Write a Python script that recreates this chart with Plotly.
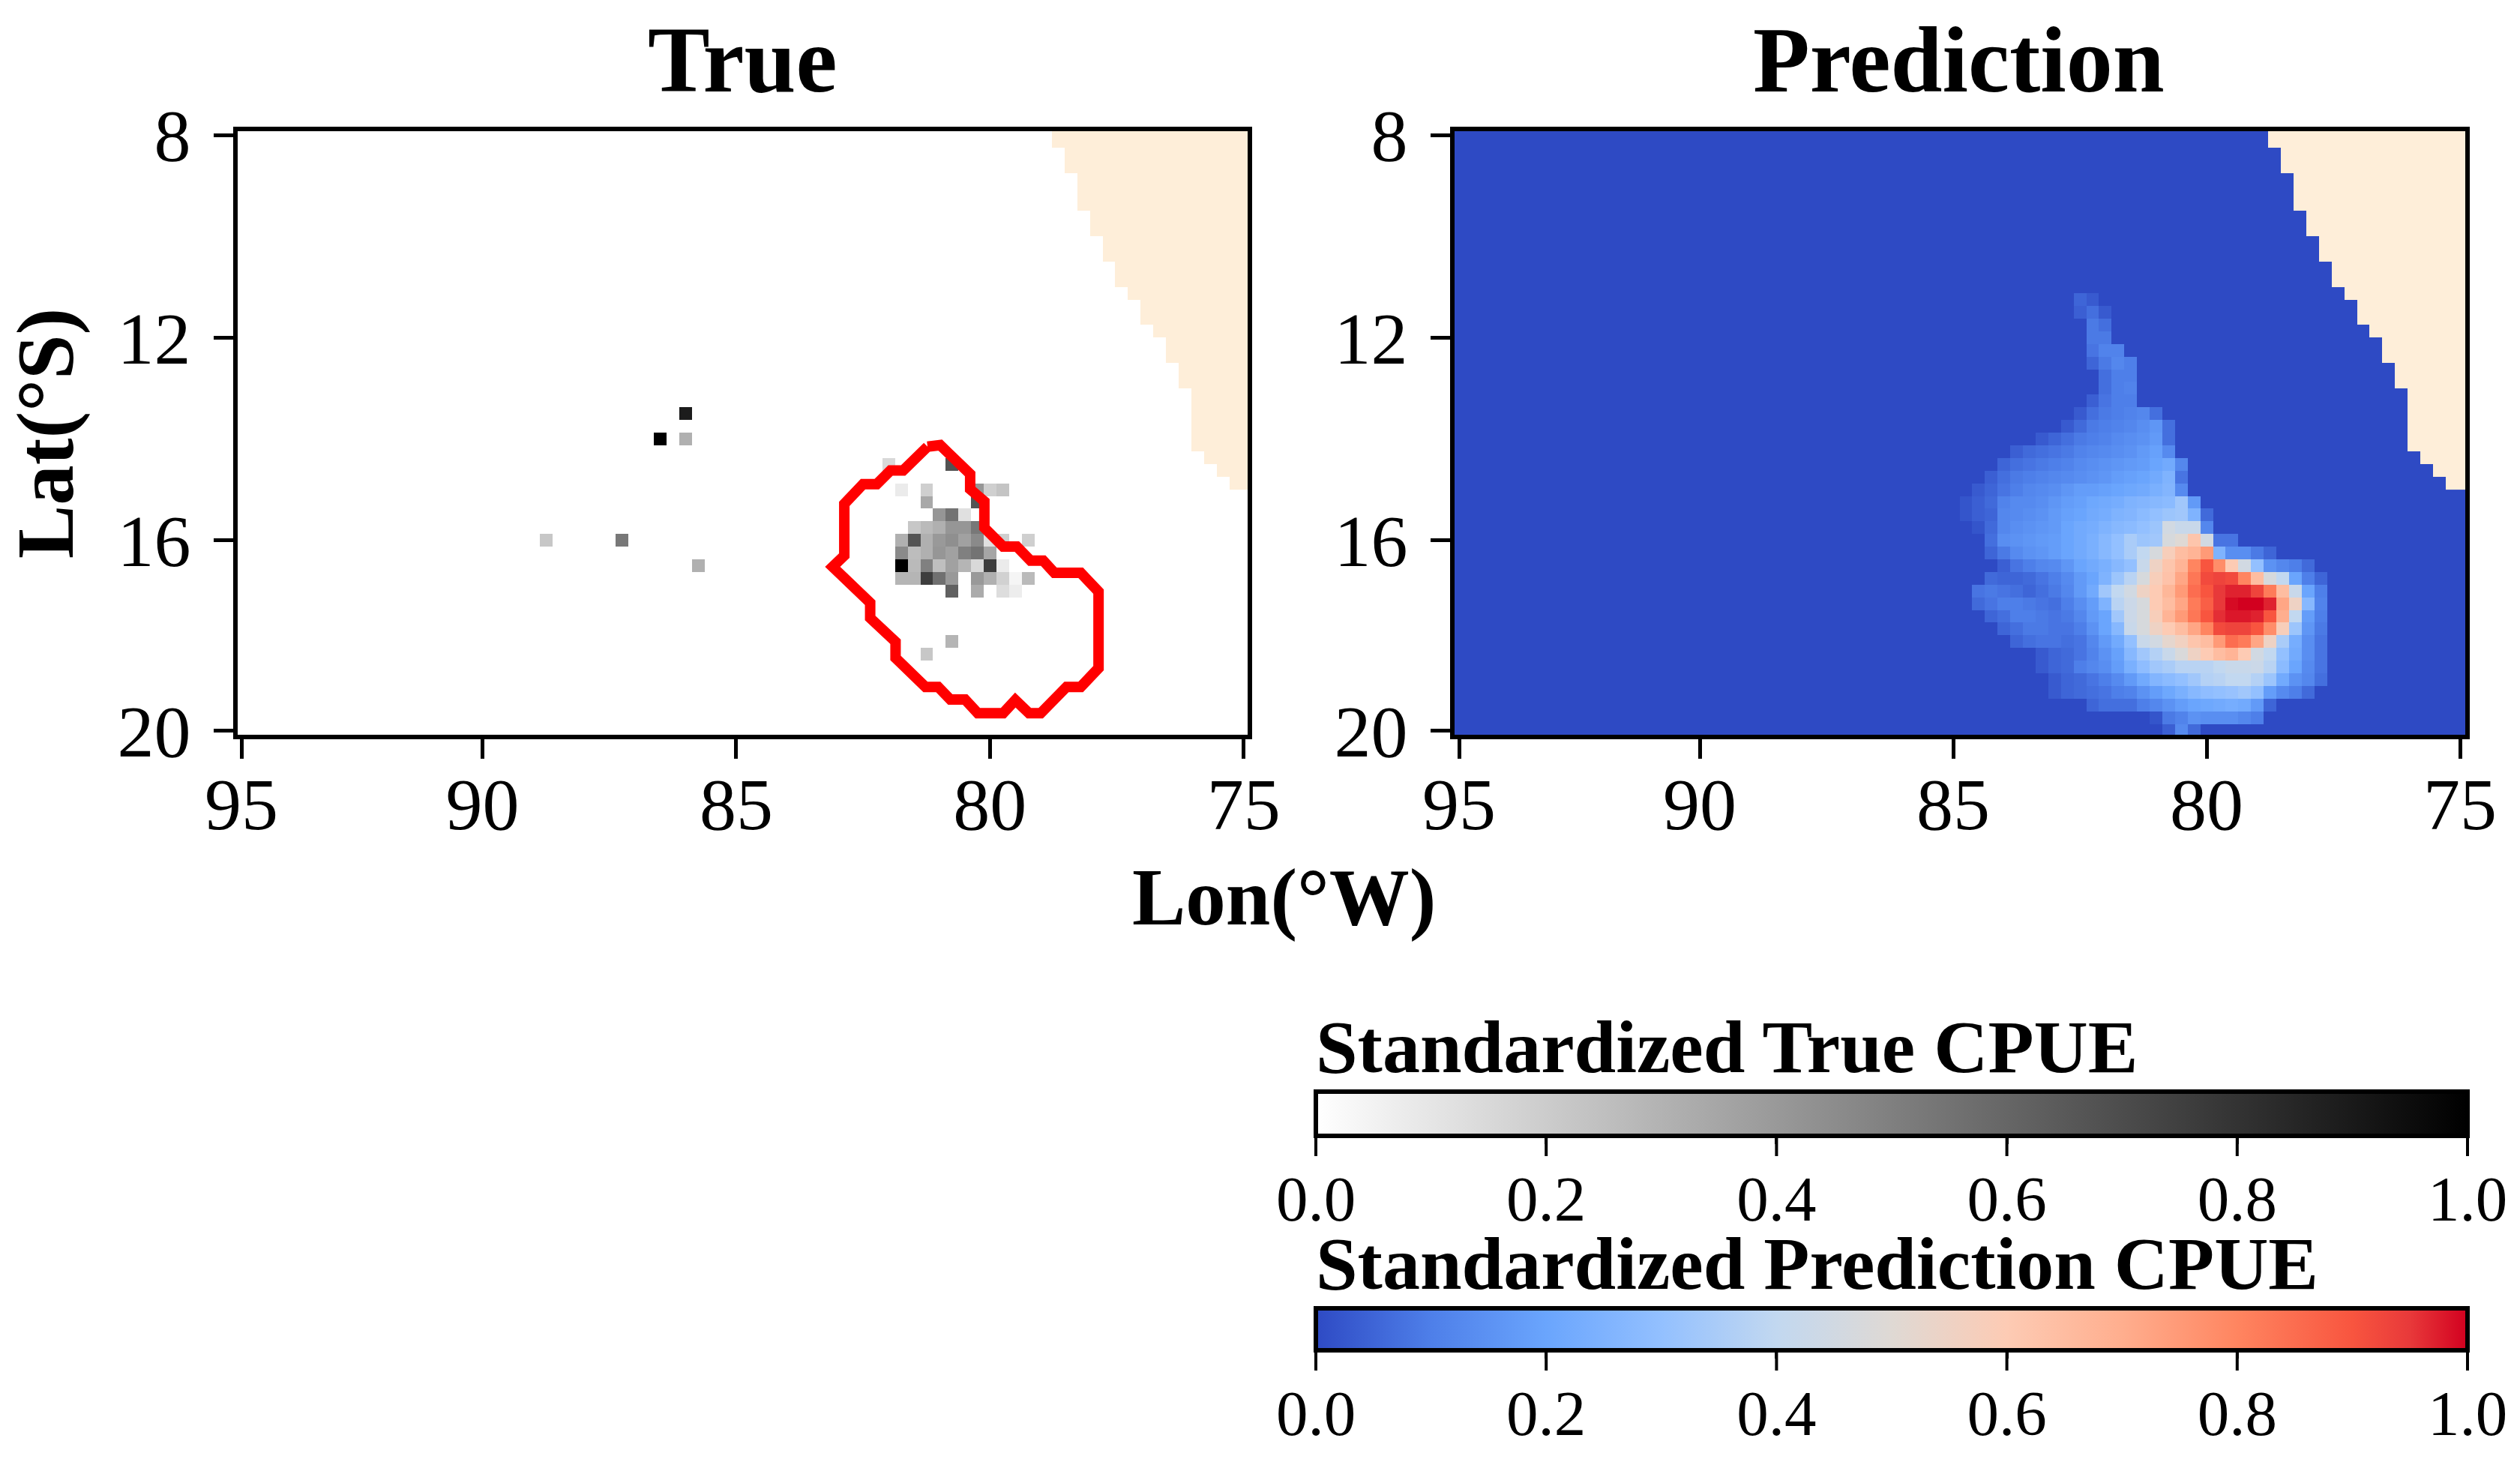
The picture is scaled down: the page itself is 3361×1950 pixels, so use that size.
import plotly.graph_objects as go

W, H = 3361, 1950
FONT = "Liberation Serif"

n_cols, n_rows = 80, 48
lons = [95 - 0.25 * i for i in range(n_cols)]
lats = [8 + 0.25 * j for j in range(n_rows)]
lon_ticks = [95, 90.25, 85.25, 80.25, 75.25]
lon_tick_labels = ["95", "90", "85", "80", "75"]
lat_ticks = [8, 12, 16, 19.75]
lat_tick_labels = ["8", "12", "16", "20"]
cbar_ticks = [0.0, 0.2, 0.4, 0.6, 0.8, 1.0]

# Land: first land column of each land row (land grid sits part of a cell off the data grid)
land_first_col = [64, 64, 65, 65, 66, 66, 66, 67, 67, 68, 68, 69, 69, 70, 71, 71, 72, 73, 73,
                  74, 74, 75, 75, 75, 75, 75, 76, 77, 78]
land_lats = [7.875 + 0.25 * r for r in range(len(land_first_col))]
land_lons = [95.0 - 0.09 - 0.25 * i for i in range(n_cols)]

# True CPUE cells
true_col = [35, 33, 35, 24, 30, 36, 51, 56, 52, 54, 58, 59, 60, 54, 58, 55, 56, 57,
            53, 54, 55, 56, 57, 58,
            52, 53, 54, 55, 56, 57, 58, 59, 60, 62,
            52, 53, 54, 55, 56, 57, 58, 59,
            52, 53, 54, 55, 56, 57, 58, 59, 60,
            52, 53, 54, 55, 56, 58, 59, 60, 61, 62,
            56, 58, 60, 61, 56, 54]
true_row = [22, 24, 24, 32, 32, 34, 26, 26, 28, 28, 28, 28, 28, 29, 29, 30, 30, 30,
            31, 31, 31, 31, 31, 31,
            32, 32, 32, 32, 32, 32, 32, 32, 32, 32,
            33, 33, 33, 33, 33, 33, 33, 33,
            34, 34, 34, 34, 34, 34, 34, 34, 34,
            35, 35, 35, 35, 35, 35, 35, 35, 35, 35,
            36, 36, 36, 36, 40, 41]
true_val = [0.89, 1.0, 0.31, 0.22, 0.53, 0.31, 0.15, 0.68, 0.08, 0.19, 0.41, 0.19, 0.23, 0.34, 0.67, 0.41, 0.55, 0.12,
            0.22, 0.27, 0.31, 0.41, 0.41, 0.53,
            0.31, 0.67, 0.31, 0.40, 0.44, 0.37, 0.46, 0.12, 0.19, 0.19,
            0.46, 0.26, 0.31, 0.41, 0.37, 0.50, 0.55, 0.35,
            1.0, 0.27, 0.50, 0.25, 0.37, 0.29, 0.15, 0.76, 0.08,
            0.29, 0.29, 0.76, 0.56, 0.40, 0.40, 0.31, 0.18, 0.04, 0.27,
            0.62, 0.33, 0.135, 0.07, 0.29, 0.22]

# Red outline
outline_lon = [81.48, 81.23, 80.64, 80.64, 80.36, 80.36, 79.99, 79.72, 79.45, 79.20, 78.98, 78.46,
               78.11, 78.11, 78.46, 78.74, 79.25, 79.48, 79.75, 79.99, 80.49, 80.74, 81.03, 81.27,
               81.52, 82.11, 82.11, 82.61, 82.61, 83.35, 83.12, 83.12, 82.75, 82.48, 82.21, 81.96, 81.48]
outline_lat = [14.15, 14.12, 14.69, 14.99, 15.23, 15.75, 16.12, 16.12, 16.40, 16.40, 16.64, 16.64,
               17.01, 18.52, 18.89, 18.89, 19.41, 19.41, 19.15, 19.41, 19.41, 19.14, 19.14, 18.89,
               18.89, 18.32, 18.0, 17.53, 17.23, 16.52, 16.30, 15.28, 14.89, 14.89, 14.62, 14.62, 14.15]

# Prediction CPUE: row -> first column, values
pred_rows = {
    13: (49, [.05, .03]),
    14: (49, [.04, .07, .03]),
    15: (50, [.09, .07]),
    16: (50, [.09, .09]),
    17: (50, [.08, .11, .11]),
    18: (50, [.05, .09, .12, .10]),
    19: (51, [.07, .10, .10]),
    20: (51, [.07, .10, .11]),
    21: (50, [.04, .08, .10, .10]),
    22: (49, [.03, .07, .09, .10, .11, .12, .07]),
    23: (48, [.03, .06, .09, .10, .11, .12, .14, .16, .07]),
    24: (46, [.03, .05, .07, .09, .10, .11, .13, .14, .15, .17, .07]),
    25: (44, [.04, .06, .07, .08, .09, .11, .12, .13, .14, .15, .17, .19, .13]),
    26: (43, [.05, .07, .08, .09, .10, .11, .13, .14, .15, .16, .17, .18, .20, .22, .12]),
    27: (42, [.04, .07, .09, .10, .11, .12, .13, .14, .15, .16, .18, .19, .20, .22, .25, .08]),
    28: (41, [.03, .05, .08, .10, .12, .13, .14, .16, .18, .18, .19, .20, .21, .22, .24, .26, .13]),
    29: (40, [.02, .04, .06, .11, .13, .13, .14, .16, .18, .19, .21, .22, .23, .25, .26, .27, .28, .33, .17]),
    30: (40, [.02, .04, .05, .12, .13, .14, .15, .17, .19, .20, .22, .23, .25, .26, .28, .30, .32, .33, .25, .06]),
    31: (41, [.02, .06, .12, .14, .15, .16, .17, .20, .22, .23, .25, .27, .28, .30, .32, .45, .42, .42, .12]),
    32: (42, [.07, .14, .15, .16, .17, .18, .20, .22, .24, .27, .30, .35, .32, .33, .47, .50, .62, .45, .08, .08]),
    33: (42, [.05, .09, .13, .15, .16, .18, .20, .22, .24, .27, .30, .35, .40, .47, .58, .65, .68, .75, .25, .14, .14, .09, .05]),
    34: (43, [.04, .08, .10, .12, .13, .16, .20, .22, .24, .27, .30, .42, .55, .62, .68, .80, .90, .78, .60, .45, .30, .15, .12, .10, .06]),
    35: (42, [.06, .05, .05, .06, .08, .10, .13, .17, .20, .25, .32, .38, .47, .58, .63, .72, .83, .92, .93, .92, .80, .65, .47, .40, .20, .10, .05]),
    36: (41, [.08, .09, .08, .07, .05, .07, .09, .12, .17, .22, .33, .40, .45, .55, .60, .67, .75, .85, .90, .95, .97, .97, .93, .82, .65, .42, .20, .10]),
    37: (41, [.06, .08, .10, .10, .09, .08, .07, .10, .14, .18, .25, .38, .43, .47, .60, .65, .72, .82, .88, .95, .99, 1.0, 1.0, .97, .72, .55, .27, .11]),
    38: (42, [.05, .07, .10, .10, .09, .08, .09, .12, .17, .20, .33, .43, .47, .58, .68, .75, .83, .90, .96, .98, .98, .97, .90, .70, .40, .18, .10]),
    39: (43, [.05, .07, .09, .09, .08, .08, .10, .15, .20, .27, .42, .47, .55, .60, .65, .72, .80, .92, .93, .93, .90, .78, .58, .32, .16, .09]),
    40: (44, [.05, .07, .08, .08, .07, .08, .12, .17, .22, .30, .42, .45, .52, .56, .62, .65, .75, .85, .82, .72, .55, .35, .23, .14, .08]),
    41: (46, [.03, .05, .06, .08, .11, .15, .19, .27, .33, .37, .42, .48, .55, .60, .65, .68, .60, .45, .40, .30, .22, .14, .08]),
    42: (46, [.03, .05, .06, .10, .12, .14, .18, .24, .29, .33, .35, .38, .38, .38, .40, .42, .42, .43, .38, .28, .20, .13, .08]),
    43: (47, [.03, .05, .06, .08, .10, .13, .17, .22, .26, .28, .30, .33, .37, .38, .40, .40, .37, .32, .22, .15, .12, .07]),
    44: (47, [.03, .05, .06, .07, .08, .10, .11, .15, .18, .21, .24, .27, .29, .30, .31, .33, .30, .18, .13, .10, .06]),
    45: (50, [.05, .07, .07, .07, .10, .12, .15, .18, .20, .21, .22, .23, .22, .17, .05]),
    46: (55, [.02, .09, .11, .15, .14, .14, .14, .12, .10]),
    47: (56, [.04, .13, .06]),
}

GREYS = [[0, "#ffffff"], [1, "#000000"]]
PRED_CS = [[0, "#2e4ac4"], [.1, "#4e7fe9"], [.2, "#6aa5fd"], [.3, "#93c0ff"], [.4, "#c2d8f0"],
           [.5, "#dfd9d4"], [.6, "#fdcbb4"], [.7, "#ffae8e"], [.8, "#ff8560"], [.9, "#f8553f"],
           [.95, "#e8393a"], [1, "#d2001f"]]
LAND = "#feeed9"

true_z = [[None] * n_cols for _ in range(n_rows)]
for c, r, v in zip(true_col, true_row, true_val):
    true_z[r][c] = v

pred_z = [[0.0] * n_cols for _ in range(n_rows)]
for r, (start, vals) in pred_rows.items():
    for i, v in enumerate(vals):
        pred_z[r][start + i] = v

land_z = [[1 if c >= fc else None for c in range(n_cols)] for fc in land_first_col]


def px(x):
    return x / W


def py(y):
    return 1 - y / H


CB_LEFT, CB_RIGHT = 1755, 3291
NATIVE_TICK = 8
FULL_TICK = 27


def colorbar(top, bottom):
    return dict(
        orientation="h", x=px(CB_LEFT), xanchor="left", y=py(top), yanchor="top",
        lenmode="pixels", len=CB_RIGHT - CB_LEFT, thicknessmode="pixels", thickness=bottom - top,
        outlinecolor="black", outlinewidth=6, borderwidth=0, xpad=0, ypad=0,
        tickmode="array", tickvals=cbar_ticks, ticktext=[f"{t:.1f}" for t in cbar_ticks],
        ticks="outside", ticklen=NATIVE_TICK, tickwidth=4, tickcolor="black",
        tickfont=dict(family=FONT, size=85, color="black"),
    )


fig = go.Figure()
fig.add_trace(go.Heatmap(x=lons, y=lats, z=true_z, xaxis="x", yaxis="y", zmin=0, zmax=1, colorscale=GREYS,
                         colorbar=colorbar(1456, 1515), hoverongaps=False))
fig.add_trace(go.Heatmap(x=land_lons, y=land_lats, z=land_z, xaxis="x", yaxis="y", zmin=0, zmax=1, showscale=False,
                         colorscale=[[0, LAND], [1, LAND]], hoverongaps=False))
fig.add_trace(go.Scatter(x=outline_lon, y=outline_lat, mode="lines", xaxis="x", yaxis="y",
                         line=dict(color="#ff0000", width=14, shape="linear"), showlegend=False))
fig.add_trace(go.Heatmap(x=lons, y=lats, z=pred_z, xaxis="x2", yaxis="y2", zmin=0, zmax=1, colorscale=PRED_CS,
                         colorbar=colorbar(1745, 1801)))
fig.add_trace(go.Heatmap(x=land_lons, y=land_lats, z=land_z, xaxis="x2", yaxis="y2", zmin=0, zmax=1, showscale=False,
                         colorscale=[[0, LAND], [1, LAND]], hoverongaps=False))

axis_common = dict(showline=True, mirror=True, linecolor="black", linewidth=6, showgrid=False, zeroline=False,
                   ticks="outside", ticklen=26, tickwidth=5, tickcolor="black",
                   tickfont=dict(family=FONT, size=98, color="black"))
xcommon = dict(tickmode="array", tickvals=lon_ticks, ticktext=lon_tick_labels,
               ticklabelstandoff=-24, **axis_common)
ycommon = dict(tickmode="array", tickvals=lat_ticks, ticktext=lat_tick_labels,
               range=[19.834, 7.926], ticklabelstandoff=11, **axis_common)

ytop, ybot = py(980), py(175)
cbar_shapes = [
    dict(type="line", xref="paper", yref="paper", x0=px(CB_LEFT + (CB_RIGHT - CB_LEFT) * t),
         x1=px(CB_LEFT + (CB_RIGHT - CB_LEFT) * t), y0=py(b), y1=py(b + FULL_TICK),
         line=dict(color="black", width=4))
    for b in (1515, 1801) for t in cbar_ticks
]
fig.update_layout(
    width=W, height=H, margin=dict(l=0, r=0, t=0, b=0, autoexpand=False),
    paper_bgcolor="white", plot_bgcolor="white", showlegend=False,
    font=dict(family=FONT, color="black"),
    xaxis=dict(domain=[px(317), px(1664)], anchor="y", range=[95.074, 75.172], **xcommon),
    yaxis=dict(domain=[ytop, ybot], anchor="x", **ycommon),
    xaxis2=dict(domain=[px(1940), px(3288)], anchor="y2", range=[95.089, 75.148], **xcommon),
    yaxis2=dict(domain=[ytop, ybot], anchor="x2", **ycommon),
    shapes=cbar_shapes,
    annotations=[
        dict(text="<b>True</b>", x=px(990), y=py(81), xref="paper", yref="paper", showarrow=False,
             xanchor="center", yanchor="middle", font=dict(family=FONT, size=124, color="black")),
        dict(text="<b>Prediction</b>", x=px(2612), y=py(81), xref="paper", yref="paper", showarrow=False,
             xanchor="center", yanchor="middle", font=dict(family=FONT, size=124, color="black")),
        dict(text="<b>Lon(°W)</b>", x=px(1712), y=py(1197), xref="paper", yref="paper", showarrow=False,
             xanchor="center", yanchor="middle", font=dict(family=FONT, size=107, color="black")),
        dict(text="<b>Lat(°S)</b>", x=px(61), y=py(578), xref="paper", yref="paper", showarrow=False,
             textangle=-90, xanchor="center", yanchor="middle", font=dict(family=FONT, size=107, color="black")),
        dict(text="<b>Standardized True CPUE</b>", x=px(1753), y=py(1396), xref="paper", yref="paper",
             showarrow=False, xanchor="left", yanchor="middle", font=dict(family=FONT, size=100, color="black")),
        dict(text="<b>Standardized Prediction CPUE</b>", x=px(1753), y=py(1685), xref="paper", yref="paper",
             showarrow=False, xanchor="left", yanchor="middle", font=dict(family=FONT, size=100, color="black")),
    ],
)

fig.write_html("out.html", post_script="document.body.style.margin='0';",
               config={"displayModeBar": False})
